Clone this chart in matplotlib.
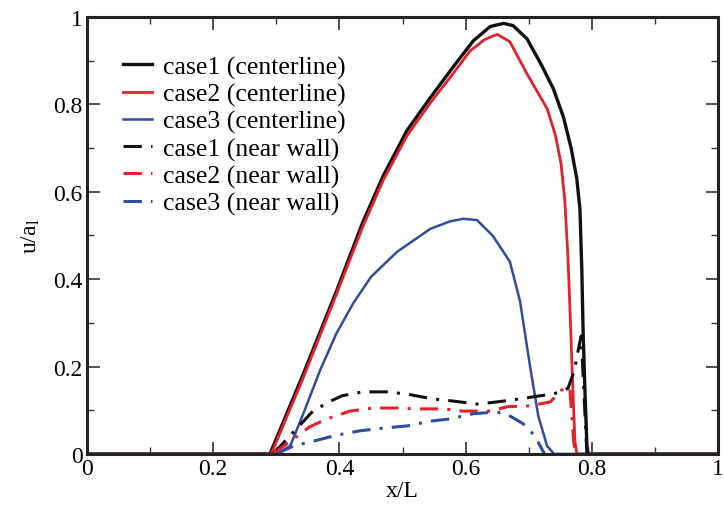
import matplotlib
matplotlib.use("Agg")
import matplotlib.pyplot as plt
from matplotlib.ticker import MultipleLocator, FixedLocator

plt.rcParams['font.family'] = ['Liberation Serif', 'DejaVu Serif']
plt.rcParams['mathtext.fontset'] = 'custom'
plt.rcParams['mathtext.rm'] = 'Liberation Serif'
plt.rcParams['mathtext.it'] = 'Liberation Serif'

# case1 centerline
x_c1 = [0, 0.29, 0.342, 0.396, 0.437, 0.469, 0.507, 0.544, 0.58, 0.612, 0.639, 0.66, 0.675, 0.697,
        0.72, 0.739, 0.755, 0.767, 0.776, 0.781, 0.784, 0.786, 0.789, 0.792, 0.794, 1.0]
y_c1 = [0, 0, 0.18, 0.375, 0.53, 0.635, 0.74, 0.815, 0.885, 0.945, 0.978, 0.985, 0.98, 0.95,
        0.89, 0.835, 0.77, 0.70, 0.63, 0.56, 0.42, 0.28, 0.14, 0.02, 0, 0]
# case2 centerline
x_c2 = [0, 0.292, 0.342, 0.396, 0.437, 0.469, 0.507, 0.544, 0.58, 0.607, 0.63, 0.65, 0.67, 0.697,
        0.729, 0.742, 0.751, 0.757, 0.762, 0.766, 0.77, 0.773, 0.776, 1.0]
y_c2 = [0, 0, 0.172, 0.368, 0.52, 0.625, 0.728, 0.803, 0.87, 0.922, 0.948, 0.96, 0.943, 0.87,
        0.79, 0.73, 0.665, 0.58, 0.45, 0.30, 0.14, 0.03, 0, 0]
# case3 centerline
x_c3 = [0, 0.30, 0.322, 0.345, 0.369, 0.395, 0.422, 0.45, 0.491, 0.544, 0.575, 0.596, 0.618, 0.643,
        0.67, 0.686, 0.702, 0.715, 0.729, 0.74, 1.0]
y_c3 = [0, 0, 0.018, 0.10, 0.19, 0.275, 0.345, 0.405, 0.462, 0.515, 0.532, 0.538, 0.535, 0.499,
        0.44, 0.35, 0.20, 0.087, 0.018, 0, 0]
# case1 near wall
x_w1 = [0.295, 0.358, 0.385, 0.404, 0.437, 0.475, 0.507, 0.547, 0.58, 0.618, 0.65, 0.686, 0.718,
        0.739, 0.762, 0.772, 0.78, 0.783, 0.787, 0.792]
y_w1 = [0, 0.098, 0.12, 0.133, 0.142, 0.142, 0.137, 0.126, 0.121, 0.114, 0.119, 0.126, 0.133,
        0.137, 0.15, 0.19, 0.25, 0.27, 0.15, 0]
# case2 near wall
x_w2 = [0.295, 0.353, 0.38, 0.417, 0.453, 0.49, 0.523, 0.564, 0.596, 0.639, 0.666, 0.702, 0.734,
        0.757, 0.765, 0.77, 0.773]
y_w2 = [0, 0.062, 0.08, 0.098, 0.105, 0.105, 0.103, 0.103, 0.098, 0.098, 0.108, 0.11, 0.119,
        0.153, 0.15, 0.05, 0]
# case3 near wall
x_w3 = [0.30, 0.327, 0.361, 0.396, 0.433, 0.469, 0.507, 0.544, 0.575, 0.612, 0.65, 0.67, 0.691,
        0.71, 0.718, 0.725]
y_w3 = [0, 0.018, 0.03, 0.043, 0.053, 0.059, 0.064, 0.075, 0.08, 0.092, 0.096, 0.087, 0.069,
        0.041, 0.018, 0]

labels = ['case1 (centerline)', 'case2 (centerline)', 'case3 (centerline)',
          'case1 (near wall)', 'case2 (near wall)', 'case3 (near wall)']
tick_vals = [0, 0.2, 0.4, 0.6, 0.8, 1.0]
tick_labels = ['0', '0.2', '0.4', '0.6', '0.8', '1']

BLACK = '#111111'
RED = '#e3202b'
BLUE = '#2f4c9e'

fig = plt.figure(figsize=(7.24, 5.10), dpi=100)
ax = fig.add_axes([0.120, 0.108, 0.872, 0.857])

ax.plot(x_c1, y_c1, color=BLACK, lw=2.4, label=labels[0])
ax.plot(x_c2, y_c2, color=RED, lw=2.0, label=labels[1])
ax.plot(x_c3, y_c3, color=BLUE, lw=1.8, label=labels[2])
dd = (6, 3, 1, 3)
ax.plot(x_w1, y_w1, color=BLACK, lw=2.2, dashes=dd, label=labels[3])
ax.plot(x_w2, y_w2, color=RED, lw=2.2, dashes=dd, label=labels[4])
ax.plot(x_w3, y_w3, color=BLUE, lw=2.2, dashes=dd, label=labels[5])

ax.set_xlim(0, 1)
ax.set_ylim(0, 1)
ax.xaxis.set_major_locator(FixedLocator(tick_vals))
ax.yaxis.set_major_locator(FixedLocator(tick_vals))
ax.set_xticklabels(tick_labels)
ax.set_yticklabels(tick_labels)
ax.xaxis.set_minor_locator(MultipleLocator(0.1))
ax.yaxis.set_minor_locator(MultipleLocator(0.1))
ax.tick_params(which='both', direction='in', top=True, right=True, labelsize=17, color='#333333')
ax.tick_params(which='major', length=9, width=1.2, pad=3)
ax.tick_params(which='minor', length=5, width=1.0)
for s in ax.spines.values():
    s.set_linewidth(2.2)
    s.set_color('#222222')

ax.set_xlabel('x/L', fontsize=17, labelpad=1)
ax.set_ylabel(r'u/a$_\mathrm{l}$', fontsize=17, labelpad=8)

leg = ax.legend(loc='upper left', bbox_to_anchor=(0.057, 0.912), frameon=False,
                fontsize=18.5, handlelength=1.15, handletextpad=0.4, labelspacing=0.15,
                borderaxespad=0, borderpad=0)

fig.savefig('out.png', dpi=100)
